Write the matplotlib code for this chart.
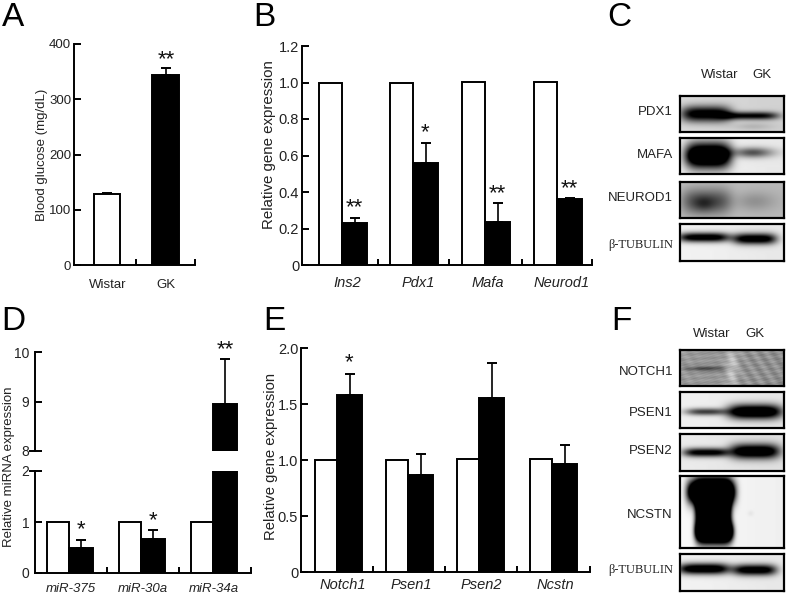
import numpy as np
import matplotlib
matplotlib.use("Agg")
import matplotlib.pyplot as plt

plt.rcParams['font.family'] = ['Liberation Sans', 'DejaVu Sans']

W, H = 787, 596

# Panel A
a_labels = ["Wistar", "GK"]
a_values = [128, 344]
a_errors = [3, 13]

# Panel B
b_labels = ["Ins2", "Pdx1", "Mafa", "Neurod1"]
b_wistar = [1.0, 1.0, 1.005, 1.005]
b_gk = [0.23, 0.56, 0.235, 0.36]
b_err = [0.03, 0.11, 0.105, 0.005]
b_stars = ["**", "*", "**", "**"]

# Panel D
d_labels = ["miR-375", "miR-30a", "miR-34a"]
d_wistar = [1.0, 1.0, 1.0]
d_gk = [0.49, 0.67, 8.95]
d_err = [0.16, 0.17, 0.9]
d_stars = ["*", "*", "**"]

# Panel E
e_labels = ["Notch1", "Psen1", "Psen2", "Ncstn"]
e_wistar = [1.0, 1.0, 1.01, 1.01]
e_gk = [1.58, 0.865, 1.555, 0.965]
e_err = [0.19, 0.185, 0.315, 0.17]
e_stars = ["*", "", "", ""]


def px_axes(x0, x1, y_top, y_bot, size=9.5, pad=2):
    # axes placed by reference pixels, x data units are pixels too
    ax = fig.add_axes([x0 / W, 1 - y_bot / H, (x1 - x0) / W, (y_bot - y_top) / H])
    ax.set_xlim(x0, x1)
    ax.patch.set_alpha(0)
    for s in ['top', 'right']:
        ax.spines[s].set_visible(False)
    for s in ['left', 'bottom']:
        ax.spines[s].set_linewidth(1.4)
    ax.tick_params(axis='y', direction='in', length=5, width=1.4, labelsize=size,
                   pad=pad, labelcolor='#222222')
    ax.tick_params(axis='x', direction='in', length=4, width=1.4, labelbottom=False)
    return ax


def draw_bar(ax, left, width, value, color, err=0, bottom=0):
    ax.bar(left, value - bottom, width, bottom=bottom, align='edge', color=color,
           edgecolor='black', linewidth=1.4, zorder=3)
    if err:
        ax.errorbar(left + width / 2, value, yerr=[[0], [err]], color='black',
                    elinewidth=1.2, capsize=3.6, capthick=1.4, zorder=2)


def star(ax, x, y, text, dy=5):
    if text:
        ax.annotate(text, (x, y), xytext=(0, dy), textcoords='offset points',
                    ha='center', va='center', fontsize=16, color='#111111')


def px_text(x, y, s, **kw):
    kw.setdefault('color', '#222222')
    kw.setdefault('ha', 'center')
    kw.setdefault('va', 'center')
    fig.text(x / W, 1 - y / H, s, **kw)


def grouped(ax, white_left, white_w, black_w, wistar, gk, err, stars, tick_x, dy=5):
    for i in range(len(wistar)):
        xl = white_left[i]
        draw_bar(ax, xl, white_w, wistar[i], 'white')
        draw_bar(ax, xl + white_w, black_w, gk[i], 'black', err[i])
        star(ax, xl + white_w + black_w / 2, gk[i] + err[i], stars[i], dy)
    ax.set_xticks(tick_x)


def blot(x0, x1, y0, y1, bg, bands, texture=0):
    # bands: (cx, cy, half width, half height, darkness, sharpness) in box fractions
    ax = fig.add_axes([x0 / W, 1 - y1 / H, (x1 - x0) / W, (y1 - y0) / H])
    ny, nx = (y1 - y0) * 3, (x1 - x0) * 3
    gx, gy = np.meshgrid(np.linspace(0, 1, nx), np.linspace(0, 1, ny))
    img = np.full((ny, nx), float(bg))
    img = img + 0.02 * np.cos(gx * 3.0)
    for cx, cy, sx, sy, dark, p in bands:
        r = np.abs((gx - cx) / sx) ** p + np.abs((gy - cy) / sy) ** 2
        img = img - dark * np.exp(-r)
    if texture:
        # blotchy membrane look
        tex = (np.sin(gx * 31 + gy * 17) * np.sin(gy * 29 - gx * 23)
               + np.sin(gx * 67 + gy * 41) * np.cos(gy * 53 + gx * 19))
        img = img + texture * tex
    ax.imshow(np.clip(img, 0, 1), cmap='gray', vmin=0, vmax=1, aspect='auto',
              extent=(0, 1, 1, 0), interpolation='bilinear')
    ax.set_xticks([])
    ax.set_yticks([])
    for s in ax.spines.values():
        s.set_linewidth(1.6)


fig = plt.figure(figsize=(W / 100, H / 100), dpi=100)

# A
ax = px_axes(74, 195, 44, 265)
ax.set_ylim(0, 400)
ax.set_yticks([0, 100, 200, 300, 400])
draw_bar(ax, 94, 26, a_values[0], 'white', a_errors[0])
draw_bar(ax, 152, 27, a_values[1], 'black', a_errors[1])
star(ax, 166, a_values[1] + a_errors[1], "**", 6)
ax.set_xticks([136, 195])
for x, lab in zip([108, 166], a_labels):
    px_text(x, 285, lab, fontsize=9.5)
px_text(42, 155, "Blood glucose (mg/dL)", fontsize=9.5, rotation=90)

# B
ax = px_axes(302, 592, 46, 265, size=10.5)
ax.set_ylim(0, 1.2)
ax.set_yticks([0, 0.2, 0.4, 0.6, 0.8, 1.0, 1.2])
ax.set_yticklabels(["0", "0.2", "0.4", "0.6", "0.8", "1.0", "1.2"])
grouped(ax, [319, 390, 462, 534], 23, 25, b_wistar, b_gk, b_err, b_stars,
        [378, 449, 522, 592], dy=7)
for x, lab in zip([347, 418, 488, 562], b_labels):
    px_text(x, 283, lab, fontsize=10.5, style='italic')
px_text(269, 145, "Relative gene expression", fontsize=10.8, rotation=90)

# D, broken axis: upper part 8-10, lower part 0-2
d_x = [47, 119, 191]
up = px_axes(35, 251, 352, 451, size=10, pad=4)
up.set_ylim(8, 10)
up.set_yticks([8, 9, 10])
up.spines['bottom'].set_visible(False)
up.set_xticks([])
low = px_axes(35, 251, 471, 573, size=10, pad=4)
low.set_ylim(0, 2)
low.set_yticks([0, 1, 2])
low.set_xticks([107, 179, 251])
# the ticks either side of the break stick out to the left
up.yaxis.get_major_ticks()[0].tick2line.set_visible(False)
up.tick_params(axis='y', which='major')
up.plot([30, 35], [8, 8], color='black', lw=1.4, clip_on=False)
low.plot([30, 35], [2, 2], color='black', lw=1.4, clip_on=False)
up.set_xlim(35, 251)
low.set_xlim(35, 251)
for i in range(3):
    draw_bar(low, d_x[i], 22, d_wistar[i], 'white')
    if d_gk[i] > 2:
        draw_bar(low, d_x[i] + 22, 24, 2, 'black')
        draw_bar(up, d_x[i] + 22, 24, d_gk[i], 'black', d_err[i], bottom=8)
        star(up, d_x[i] + 34, d_gk[i] + d_err[i], d_stars[i], 7)
    else:
        draw_bar(low, d_x[i] + 22, 24, d_gk[i], 'black', d_err[i])
        star(low, d_x[i] + 34, d_gk[i] + d_err[i], d_stars[i], 7)
for x, lab in zip([71, 143, 214], d_labels):
    px_text(x, 589, lab, fontsize=9.5, style='italic')
px_text(9, 467, "Relative miRNA expression", fontsize=9.5, rotation=90)

# E
ax = px_axes(301, 590, 348, 572, size=10.5)
ax.set_ylim(0, 2)
ax.set_yticks([0, 0.5, 1.0, 1.5, 2.0])
ax.set_yticklabels(["0", "0.5", "1.0", "1.5", "2.0"])
grouped(ax, [315, 386, 457, 530], 22, 25, e_wistar, e_gk, e_err, e_stars,
        [373, 445, 517, 590], dy=8)
for x, lab in zip([343, 411, 481, 555], e_labels):
    px_text(x, 585, lab, fontsize=10.5, style='italic')
px_text(271, 456, "Relative gene expression", fontsize=10.7, rotation=90)

# C blots
blot(680, 784, 96, 132, 0.84, [(0.25, 0.50, 0.24, 0.22, 1.0, 4), (0.68, 0.55, 0.27, 0.11, 0.85, 4),
                               (0.70, 0.85, 0.2, 0.1, 0.12, 2)])
blot(680, 784, 138, 174, 0.93, [(0.27, 0.50, 0.22, 0.34, 1.6, 4), (0.70, 0.42, 0.2, 0.14, 0.6, 2)])
blot(680, 784, 182, 218, 0.74, [(0.25, 0.55, 0.24, 0.36, 0.45, 4), (0.23, 0.62, 0.1, 0.22, 0.18, 2),
                                (0.72, 0.55, 0.2, 0.26, 0.16, 2)])
blot(680, 784, 224, 261, 0.93, [(0.23, 0.36, 0.25, 0.13, 1.1, 4), (0.72, 0.40, 0.21, 0.15, 1.1, 4)])

# F blots
blot(680, 784, 350, 386, 0.58, [(0.25, 0.52, 0.2, 0.07, 0.3, 2), (0.50, 0.5, 0.06, 0.6, -0.2, 2)],
     texture=0.06)
blot(680, 784, 392, 428, 0.92, [(0.25, 0.55, 0.2, 0.10, 0.7, 3), (0.72, 0.55, 0.26, 0.2, 1.3, 4)])
blot(680, 784, 434, 471, 0.9, [(0.25, 0.50, 0.22, 0.12, 1.0, 4), (0.72, 0.47, 0.24, 0.2, 1.2, 4)])
blot(680, 784, 476, 548, 0.96, [(0.30, 0.22, 0.23, 0.17, 2.0, 6), (0.32, 0.50, 0.17, 0.34, 2.0, 6),
                                (0.33, 0.78, 0.18, 0.13, 2.0, 6), (0.68, 0.52, 0.03, 0.04, 0.05, 2)])
blot(680, 784, 554, 591, 0.93, [(0.23, 0.40, 0.25, 0.15, 1.2, 4), (0.72, 0.43, 0.21, 0.15, 1.1, 4)])

# blot labels
px_text(720, 75, "Wistar", fontsize=9.5)
px_text(762, 75, "GK", fontsize=9.5)
for y, lab in zip([112, 155, 198], ["PDX1", "MAFA", "NEUROD1"]):
    px_text(673, y, lab, fontsize=9.5, ha='right')
px_text(673, 245, "β-TUBULIN", fontsize=9, ha='right', family='Liberation Serif')
px_text(712, 334, "Wistar", fontsize=9.5)
px_text(755, 334, "GK", fontsize=9.5)
for y, lab in zip([372, 413, 451, 515], ["NOTCH1", "PSEN1", "PSEN2", "NCSTN"]):
    px_text(673, y, lab, fontsize=9.5, ha='right')
px_text(673, 570, "β-TUBULIN", fontsize=9, ha='right', family='Liberation Serif')

# panel letters
for x, y, lab in [(13, 17, "A"), (264, 17, "B"), (619, 17, "C"),
                  (13, 321, "D"), (274, 321, "E"), (621, 321, "F")]:
    px_text(x, y, lab, fontsize=24, color='black')

fig.savefig("out.png", dpi=100)
